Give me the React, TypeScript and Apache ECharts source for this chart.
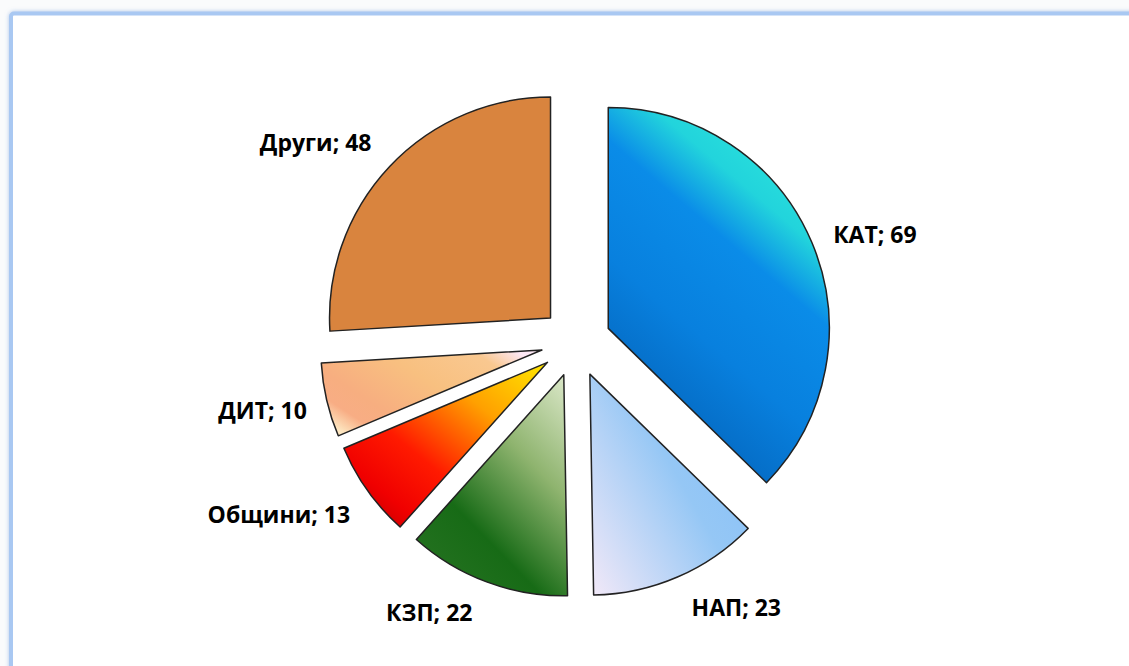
import React, { useEffect, useRef } from "react";
import * as echarts from "echarts";

const categories = ["КАТ", "НАП", "КЗП", "Общини", "ДИТ", "Други"];
const values = [69, 23, 22, 13, 10, 48];

type Stop = [number, string];
const gradients: { dir: [number, number, number, number]; stops: Stop[] }[] = [
  { dir: [0.75, 0, 0.25, 1], stops: [[0, "#2ee8dc"], [0.22, "#22d4dc"], [0.37, "#0a8ce8"], [0.62, "#0880de"], [1, "#035db2"]] },
  { dir: [1, 0.2, 0, 1], stops: [[0, "#88c0f8"], [0.4, "#95c7f5"], [1, "#f3e9f8"]] },
  { dir: [1, 0, 0.3, 1], stops: [[0, "#dde9cb"], [0.38, "#8fb46f"], [0.75, "#176b16"], [1, "#23711f"]] },
  { dir: [1, 0, 0, 1], stops: [[0, "#ffe800"], [0.3, "#ffa000"], [0.6, "#ff1a00"], [0.8, "#f00000"], [1, "#b00000"]] },
  { dir: [0, 0.8, 1, 0.2], stops: [[0, "#fde6c0"], [0.12, "#f8ad84"], [0.25, "#f7ae80"], [0.55, "#f8c080"], [0.85, "#f9c890"], [1, "#fde8f5"]] },
  { dir: [0, 0, 1, 1], stops: [[0, "#d9843e"], [1, "#d9843e"]] },
];
const labelLen = [22, 33, 32, 40, 43, 36];
const labelLen2 = [1, 1, 3, -15, -22, -8];

export default function App() {
  const ref = useRef<HTMLDivElement>(null);
  useEffect(() => {
    if (!ref.current) return;
    const chart = echarts.init(ref.current, null, { renderer: "svg" });
    const data = categories.map((name, i) => {
      const g = gradients[i];
      return {
        name,
        value: values[i],
        selected: true,
        itemStyle: {
          color: new echarts.graphic.LinearGradient(
            g.dir[0], g.dir[1], g.dir[2], g.dir[3],
            g.stops.map(([offset, color]) => ({ offset, color }))
          ),
        },
        labelLine: { show: false, length: labelLen[i], length2: labelLen2[i] },
      };
    });
    chart.setOption({
      animation: false,
      backgroundColor: "#fafbfc",
      graphic: [
        {
          type: "rect",
          z: 0,
          shape: { x: 11, y: 13.5, width: 1150, height: 700, r: 3 },
          style: {
            fill: "#ffffff",
            stroke: "#a9c8f2",
            lineWidth: 4,
            shadowBlur: 4,
            shadowColor: "rgba(120,160,220,0.6)",
          },
        },
      ],
      series: [
        {
          type: "pie",
          center: [576, 342],
          radius: 221,
          startAngle: 90,
          clockwise: true,
          selectedMode: "multiple",
          selectedOffset: 35,
          avoidLabelOverlap: false,
          emphasis: { disabled: true },
          itemStyle: { borderColor: "#222", borderWidth: 1.5 },
          label: {
            show: true,
            position: "outside",
            formatter: "{b}; {c}",
            fontFamily: "'Open Sans', sans-serif",
            fontWeight: "bold",
            fontSize: 23,
            color: "#000",
            distanceToLabelLine: 0,
          },
          labelLine: { show: false },
          data,
        },
      ],
    });
    return () => chart.dispose();
  }, []);
  return (
    <div
      ref={ref}
      style={{ position: "absolute", left: 0, top: 0, width: 1129, height: 666 }}
    />
  );
}
